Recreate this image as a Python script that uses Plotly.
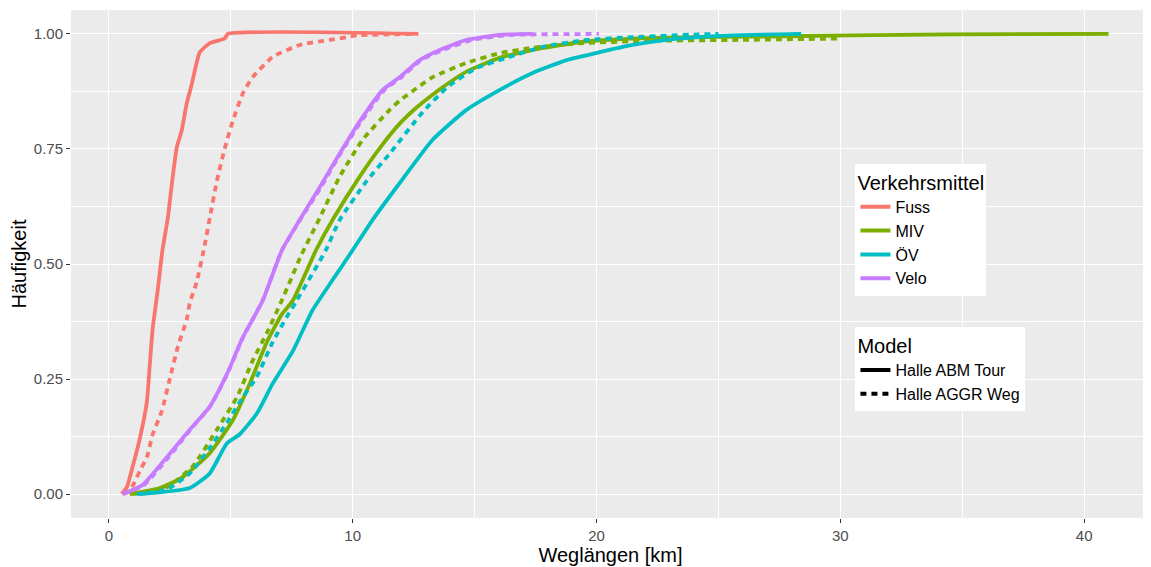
import plotly.graph_objects as go

# ---- data ----
modes = ["Fuss", "MIV", "ÖV", "Velo"]
mode_colors = ["#F8766D", "#7CAE00", "#00BFC4", "#C77CFF"]
models = ["Halle ABM Tour", "Halle AGGR Weg"]

fuss_abm_x = [0.53, 0.74, 0.98, 1.27, 1.56, 1.68, 1.8, 2.0, 2.2, 2.42, 2.6, 2.79, 2.99, 3.2, 3.4, 3.73, 4.14, 4.75, 4.88, 12.7]
fuss_abm_y = [0, 0.015, 0.06, 0.12, 0.2, 0.28, 0.36, 0.44, 0.53, 0.6, 0.68, 0.754, 0.79, 0.85, 0.89, 0.96, 0.98, 0.99, 1.0, 1.0]

fuss_aggr_x = [0.6, 0.74, 1.0, 1.27, 1.56, 1.8, 2.17, 2.5, 2.83, 3.2, 3.32, 3.6, 3.93, 4.14, 4.43, 4.75, 5.08, 5.49, 5.9, 6.72, 7.83, 9.06, 9.75, 10.2, 12.6]
fuss_aggr_y = [0, 0.005, 0.02, 0.05, 0.08, 0.13, 0.18, 0.25, 0.32, 0.38, 0.415, 0.46, 0.54, 0.6, 0.68, 0.75, 0.81, 0.87, 0.906, 0.95, 0.976, 0.987, 0.993, 0.997, 1.0]

miv_abm_x = [0.86, 2.09, 3.03, 4.14, 5.08, 5.78, 6.48, 7.09, 7.54, 8.5, 9.18, 10.29, 11.23, 11.93, 12.62, 13.28, 13.85, 14.67, 16.02, 17.38, 19.43, 21.48, 24.2, 26.3, 30.4, 34.5, 41.0]
miv_abm_y = [0, 0.013, 0.037, 0.089, 0.16, 0.24, 0.33, 0.39, 0.42, 0.53, 0.596, 0.69, 0.76, 0.805, 0.84, 0.868, 0.89, 0.918, 0.948, 0.965, 0.983, 0.99, 0.993, 0.994, 0.997, 0.999, 1.0]

miv_aggr_x = [0.98, 2.38, 3.44, 4.43, 5.25, 5.9, 6.48, 7.09, 7.9, 8.65, 9.47, 10.41, 11.52, 11.93, 12.62, 13.28, 14.67, 16.02, 17.38, 19.43, 22.2, 26.0, 30.0]
miv_aggr_y = [0, 0.015, 0.06, 0.14, 0.21, 0.29, 0.35, 0.42, 0.52, 0.6, 0.69, 0.77, 0.835, 0.855, 0.882, 0.906, 0.937, 0.958, 0.97, 0.98, 0.985, 0.987, 0.99]

oev_abm_x = [1.27, 3.32, 4.14, 4.84, 5.37, 6.07, 6.72, 7.54, 8.36, 9.2, 10.0, 10.82, 11.93, 13.28, 14.67, 16.02, 17.38, 18.77, 20.1, 21.48, 22.87, 24.2, 25.57, 28.4]
oev_abm_y = [0, 0.013, 0.045, 0.11, 0.13, 0.175, 0.24, 0.31, 0.4, 0.467, 0.53, 0.596, 0.676, 0.77, 0.835, 0.878, 0.915, 0.943, 0.96, 0.976, 0.987, 0.993, 0.997, 1.0]

oev_aggr_x = [1.15, 2.38, 3.32, 4.14, 4.84, 5.49, 6.07, 6.72, 7.3, 7.7, 8.9, 9.47, 10.57, 11.52, 12.87, 13.9, 15.08, 16.43, 17.79, 19.6, 21.48, 24.2, 25.0]
oev_aggr_y = [0, 0.01, 0.045, 0.1, 0.155, 0.21, 0.255, 0.33, 0.385, 0.42, 0.53, 0.596, 0.68, 0.74, 0.83, 0.885, 0.926, 0.95, 0.972, 0.987, 0.993, 0.999, 1.0]

velo_abm_x = [0.57, 1.39, 2.38, 3.32, 4.14, 4.84, 5.49, 6.31, 7.1, 7.83, 8.65, 9.47, 10.29, 11.23, 11.93, 12.75, 13.57, 14.67, 16.02, 17.38]
velo_abm_y = [0, 0.02, 0.08, 0.14, 0.19, 0.26, 0.34, 0.42, 0.53, 0.596, 0.667, 0.74, 0.81, 0.878, 0.906, 0.943, 0.965, 0.987, 0.998, 1.0]

velo_aggr_x = [0.6, 1.45, 2.45, 3.35, 4.15, 4.85, 5.5, 6.3, 7.1, 7.85, 8.7, 9.5, 10.35, 11.3, 12.0, 12.8, 13.7, 14.9, 16.3, 17.5, 20.1]
velo_aggr_y = [0, 0.02, 0.08, 0.14, 0.19, 0.26, 0.34, 0.42, 0.53, 0.596, 0.667, 0.74, 0.81, 0.878, 0.906, 0.943, 0.965, 0.987, 0.997, 0.999, 1.0]

x_ticks = [0, 10, 20, 30, 40]
y_ticks = [0.0, 0.25, 0.5, 0.75, 1.0]
y_tick_labels = ["0.00", "0.25", "0.50", "0.75", "1.00"]

series = [
    ("Fuss", 0, fuss_abm_x, fuss_abm_y),
    ("Fuss", 1, fuss_aggr_x, fuss_aggr_y),
    ("MIV", 0, miv_abm_x, miv_abm_y),
    ("MIV", 1, miv_aggr_x, miv_aggr_y),
    ("ÖV", 0, oev_abm_x, oev_abm_y),
    ("ÖV", 1, oev_aggr_x, oev_aggr_y),
    ("Velo", 0, velo_abm_x, velo_abm_y),
    ("Velo", 1, velo_aggr_x, velo_aggr_y),
]

FONT = "Liberation Sans, Arial, sans-serif"
LW = 3.8
DASH = "6px,5px"
TITLE_SIZE = 20
ITEM_SIZE = 16
TICK_SIZE = 15

fig = go.Figure()
for mode, mi, xs, ys in series:
    color = mode_colors[modes.index(mode)]
    fig.add_trace(go.Scatter(
        x=xs, y=ys, mode="lines",
        line=dict(color=color, width=LW, dash="solid" if mi == 0 else DASH,
                  shape="spline", smoothing=0.5),
        showlegend=False, hoverinfo="skip"))

# legend entries: colour
for m, c in zip(modes, mode_colors):
    fig.add_trace(go.Scatter(x=[None], y=[None], mode="lines", name=m,
                             line=dict(color=c, width=4), legend="legend"))
# legend entries: model (line type)
for i, md in enumerate(models):
    fig.add_trace(go.Scatter(x=[None], y=[None], mode="lines", name=md,
                             line=dict(color="black", width=4,
                                       dash="solid" if i == 0 else DASH),
                             legend="legend2"))

# page body has an 8px margin, so the figure is sized to fit the 1151x567 window
fig.update_layout(
    width=1143, height=559,
    paper_bgcolor="white", plot_bgcolor="#EBEBEB",
    margin=dict(l=63, r=1, t=2, b=49),
    font=dict(family=FONT, color="#4D4D4D"),
    legend=dict(
        title=dict(text="Verkehrsmittel", font=dict(size=TITLE_SIZE, color="black", family=FONT)),
        font=dict(size=ITEM_SIZE, color="black", family=FONT),
        x=0.727, y=0.697, xanchor="left", yanchor="top",
        bgcolor="white", itemwidth=30, tracegroupgap=0,
    ),
    legend2=dict(
        title=dict(text="Model", font=dict(size=TITLE_SIZE, color="black", family=FONT)),
        font=dict(size=ITEM_SIZE, color="black", family=FONT),
        x=0.727, y=0.376, xanchor="left", yanchor="top",
        bgcolor="white", itemwidth=30,
    ),
)

fig.update_xaxes(
    range=[-1.55, 42.7], tickvals=x_ticks, ticks="outside", ticklen=4,
    tickcolor="#333333", tickwidth=1,
    tickfont=dict(size=TICK_SIZE, color="#4D4D4D", family=FONT),
    showgrid=True, gridcolor="white", gridwidth=1.2, zeroline=False, showline=False,
    minor=dict(tickvals=[5, 15, 25, 35], showgrid=True, gridcolor="white", gridwidth=0.5, ticks=""),
    title=dict(text="Weglängen [km]", font=dict(size=TITLE_SIZE, color="black", family=FONT), standoff=3),
)
fig.update_yaxes(
    range=[-0.052, 1.052], tickvals=y_ticks, ticktext=y_tick_labels, ticks="outside", ticklen=4,
    tickcolor="#333333", tickwidth=1,
    tickfont=dict(size=TICK_SIZE, color="#4D4D4D", family=FONT),
    showgrid=True, gridcolor="white", gridwidth=1.2, zeroline=False, showline=False,
    minor=dict(tickvals=[0.125, 0.375, 0.625, 0.875], showgrid=True, gridcolor="white", gridwidth=0.5, ticks=""),
    title=dict(text="Häufigkeit", font=dict(size=TITLE_SIZE, color="black", family=FONT), standoff=4),
)

fig.write_html("out.html")
